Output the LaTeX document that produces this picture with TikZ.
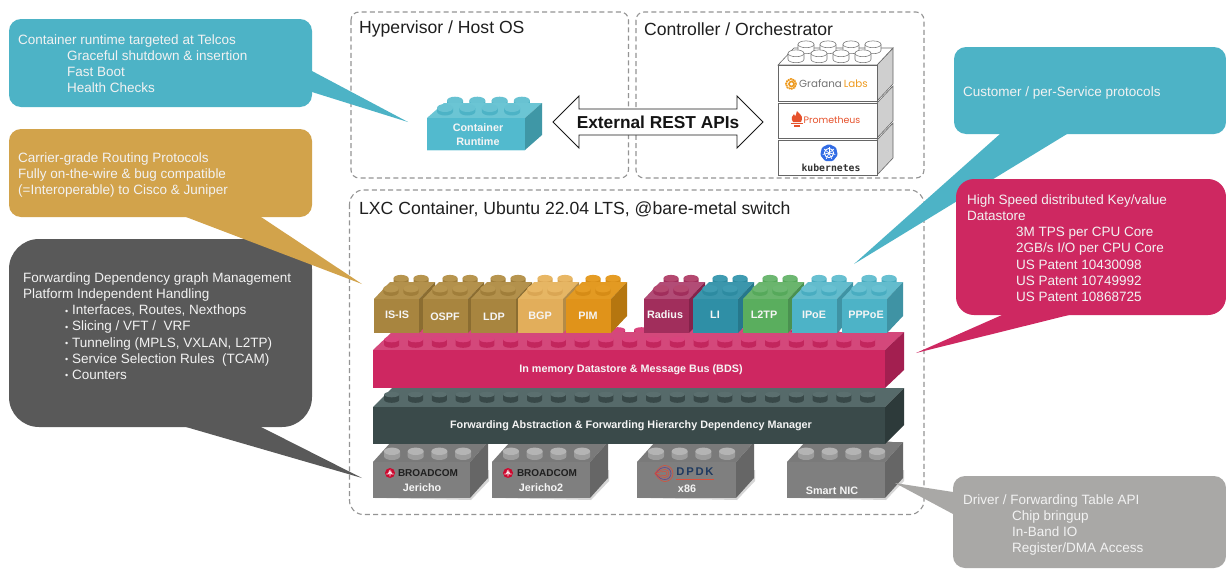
\documentclass[tikz,border=0pt]{standalone}
\usepackage{fontspec}
\setmainfont{Liberation Sans}
\newfontfamily\logofont{Poppins}
\newfontfamily\monobold[BoldFont=DejaVu Sans Mono Bold]{DejaVu Sans Mono}
\definecolor{calloutteal}{HTML}{4DB3C6}
\definecolor{calloutorange}{HTML}{D2A34B}
\definecolor{calloutdark}{HTML}{595959}
\definecolor{calloutred}{HTML}{CE2861}
\definecolor{calloutgray}{HTML}{A9A8A6}
\definecolor{dashgray}{HTML}{949494}
\definecolor{promfl}{HTML}{E6522C}
\definecolor{k8sblue}{HTML}{326CE5}
\definecolor{grafor}{HTML}{EE9A1E}
\definecolor{dpdkblue}{HTML}{1F3A60}
\definecolor{dpdkpurple}{HTML}{6A3F8C}
\definecolor{dpdkred}{HTML}{D8503C}
\definecolor{bcred}{HTML}{CC092F}
% palettes: F front, T top, S side, B stud body, U stud top
\newcommand{\palette}[6]{%
  \definecolor{#1F}{HTML}{#2}\definecolor{#1T}{HTML}{#3}\definecolor{#1S}{HTML}{#4}%
  \definecolor{#1B}{HTML}{#5}\definecolor{#1U}{HTML}{#6}}
\palette{brown}{A8853F}{B3914C}{8B6D31}{A07E3A}{B7954F}
\palette{sand}{E2AE5B}{E6B664}{B38B47}{DAA654}{E8B765}
\palette{amber}{E0931A}{E39A22}{B5760F}{D68C16}{E59C24}
\palette{plum}{A12E5C}{B24C76}{85224A}{A12E5C}{B4486F}
\palette{petrol}{2F8FA6}{3B96AC}{26788C}{2D8BA1}{3F9BB1}
\palette{leaf}{5AAE5E}{6AB56D}{4A9150}{56A95B}{6DB771}
\palette{sky}{4DB3C7}{63BCCD}{3F93A4}{49ADC1}{68C0D1}
\palette{cont}{52BACE}{6BC5D4}{3F97A6}{4DB3C6}{68C2D2}
\palette{rose}{CE2761}{D4487B}{A31F50}{C2265D}{D9447D}
\palette{slate}{3A4A4A}{566A6A}{2D3A3A}{384848}{5B6F6F}
\palette{stone}{7F7F7F}{7A7A7A}{666666}{9C9C9C}{B4B4B4}
\palette{blank}{FFFFFF}{FFFFFF}{CFCFCF}{FFFFFF}{FFFFFF}
\newcommand{\brickbody}[7]{%
  \fill[#7T] (#1,#2) -- ({#1+#5},{#2-#6}) -- ({#3+#5},{#2-#6}) -- (#3,#2) -- cycle;
  \fill[#7S] (#3,#2) -- ({#3+#5},{#2-#6}) -- ({#3+#5},{#4-#6}) -- (#3,#4) -- cycle;
  \fill[#7F] (#1,#2) rectangle (#3,#4);}
\newcommand{\stud}[6]{%
  \fill[#6B] ({#1-#3},#2) -- ({#1-#3},{#2+#5}) arc[start angle=180,end angle=360,x radius=#3 pt,y radius=#4 pt] -- ({#1+#3},#2) -- cycle;
  \fill[#6U] (#1,#2) ellipse[x radius=#3 pt,y radius=#4 pt];}
\newcommand{\studrow}[8]{%
  \foreach \i in {1,...,#3}{%
    \pgfmathsetmacro{\cx}{#1+(\i-1)*#2}%
    \stud{\cx}{#4}{#5}{#6}{#7}{#8}}}
\newcommand{\minibrick}[2]{%
  \studrow{#1+27}{20}{2}{278.3}{7.5}{3.4}{3.5}{#2}
  \brickbody{#1}{299}{#1+45}{333}{16}{17}{#2}
  \studrow{#1+17}{20}{2}{288.7}{7.7}{3.7}{3.5}{#2}}
\newcommand{\graybrick}[2]{%
  \fill[black!16] ({#1+2},{498}) -- ({#2+1},500) -- ({#2+19},481) -- ({#2+19},470) -- cycle;
  \studrow{#1+30}{23.7}{4}{445}{8}{3.7}{4}{stone}
  \brickbody{#1}{462}{#2}{498}{18}{20}{stone}
  \studrow{#1+19}{23.7}{4}{451.3}{8}{3.7}{5}{stone}}
\newcommand{\orchstud}[2]{%
  \draw[line width=.55,draw=black!55,fill=white] ({#1-8},#2) -- ({#1-8},{#2+6}) arc[start angle=180,end angle=360,x radius=8pt,y radius=3.4pt] -- ({#1+8},#2);
  \draw[line width=.55,draw=black!55,fill=white] (#1,#2) ellipse[x radius=8pt,y radius=3.4pt];}
\newcommand{\orchbox}[2]{%
  \filldraw[orchline,fill=blankS] (877,#1) -- (893,{#1-17}) -- (893,{#2-17}) -- (877,#2) -- cycle;
  \filldraw[orchline,fill=white] (778,#1) rectangle (877,#2);}
\tikzset{
  boxtitle/.style={anchor=west,inner sep=0,font=\fontsize{17.6}{20}\selectfont,text=black!88},
  zone/.style={draw=dashgray,line width=1.1,dash pattern=on 5pt off 3.2pt},
  callouttext/.style={anchor=north west,inner sep=0,align=left,text=white!95!black,font=\fontsize{13.5}{16.2}\selectfont},
  bricklabel/.style={inner sep=0,text=white!96!black,align=center,font=\fontsize{10.8}{14}\selectfont\bfseries},
  orchline/.style={draw=black!60,line width=.6},
}
\newcommand{\fl}{\rule{0pt}{12pt}}
\newcommand{\ind}[1]{\hspace*{#1pt}}
\newcommand{\bul}{\hspace*{42pt}\makebox[7pt][l]{\raisebox{.5pt}{\fontsize{9}{9}\selectfont\textbullet}}}
\begin{document}
\begin{tikzpicture}[x=1pt,y=-1pt]
\useasboundingbox (0,0) rectangle (1226,568);
\fill[white] (0,0) rectangle (1226,568);
% zones
\draw[zone,rounded corners=8] (351,12) rectangle (628.5,178);
\draw[zone,rounded corners=8] (636,12) rectangle (924,178);
\draw[zone,rounded corners=14] (349.5,190) rectangle (924,514.5);
\node[boxtitle] (hv) at (359,29) {Hypervisor / Host OS};
\node[boxtitle] (ctl) at (644,29) {Controller / Orchestrator};
\node[boxtitle] (lxc) at (359,209) {LXC Container, Ubuntu 22.04 LTS, @bare-metal switch};
% container runtime brick
\studrow{455}{22.3}{4}{100.5}{8}{3.8}{4}{cont}
\brickbody{427}{118}{525}{150}{17}{15}{cont}
\studrow{445}{22.4}{4}{108}{8}{4}{3.5}{cont}
\fill[white!70!contF] (427,149.5) rectangle (525,150.5);
\node[bricklabel] (crt) at (478,135) {Container\\Runtime};
% orchestrator stack
\orchbox{140}{175}
\orchbox{103}{138}
\filldraw[orchline,fill=blankS] (877,65) -- (893,48) -- (893,84) -- (877,101) -- cycle;
\filldraw[orchline,fill=white] (778,65) -- (794,48) -- (893,48) -- (877,65) -- cycle;
\filldraw[orchline,fill=white] (778,65) rectangle (877,101);
\foreach \xs in {806,828,851,873}{\orchstud{\xs}{44.3}}
\foreach \xs in {796,819,841,863}{\orchstud{\xs}{53.3}}
% grafana logo
\draw[draw=grafor,line width=1.8,dash pattern=on 1.7pt off .6pt] (791,84) circle[radius=5pt];
\draw[draw=grafor,line width=1.6] (791.5,84) circle[radius=2.5pt];
\node[inner sep=0,anchor=west,font=\logofont\fontsize{10.3}{12}\selectfont] (graf) at (799,84) {\textcolor{black!55}{Grafana}\hspace{2pt}\textcolor{grafor}{Labs}};
% prometheus logo
\fill[promfl] (797,111) .. controls (799,114) and (802.5,115) .. (802,119) .. controls (801.8,120) and (801.5,121) .. (801,122) -- (793,122) .. controls (790.5,118.5) and (792,115.5) .. (794,114) .. controls (794.5,115.5) and (795,116) .. (795.5,116) .. controls (795.5,114) and (796.5,113) .. (797,111) -- cycle;
\fill[promfl] (791,122.8) rectangle (803,124.3);
\fill[promfl] (794,124.9) rectangle (800,126.6);
\node[inner sep=0,anchor=west,text=promfl,font=\logofont\fontsize{9.4}{12}\selectfont] (prom) at (803.5,120) {Prometheus};
% kubernetes logo
\fill[k8sblue,rounded corners=1.2pt] (829,144) -- ({829+9*sin(51.43)},{153-9*cos(51.43)}) -- ({829+9*sin(102.86)},{153-9*cos(102.86)}) -- ({829+9*sin(154.29)},{153-9*cos(154.29)}) -- ({829+9*sin(205.71)},{153-9*cos(205.71)}) -- ({829+9*sin(257.14)},{153-9*cos(257.14)}) -- ({829+9*sin(308.57)},{153-9*cos(308.57)}) -- cycle;
\draw[white,line width=.9] (829,153) circle[radius=4.6pt];
\foreach \a in {0,51.43,102.86,154.29,205.71,257.14,308.57}{\draw[white,line width=.7] (829,153) -- ({829+6.4*sin(\a)},{153-6.4*cos(\a)});}
\node[inner sep=0,text=black!80,font=\monobold\bfseries\fontsize{9.8}{11}\selectfont] (k8s) at (831,168) {kubernetes};
% bottom row bricks
\graybrick{373}{470}
\graybrick{492}{590}
\graybrick{637}{736}
\graybrick{787}{885}
% broadcom logos
\foreach \cxx/\tx/\nm in {390/428/bca,508/547/bcb}{
  \fill[bcred] (\cxx,473) circle[radius=5pt];
  \draw[white,line width=.6] ({\cxx-3.7},474) -- ({\cxx-1.6},474) -- ({\cxx-.7},471) -- (\cxx,475.5) -- ({\cxx+.8},471) -- ({\cxx+1.6},474) -- ({\cxx+3.7},474);
  \node[inner sep=0,text=black!88,font=\fontsize{10}{12}\selectfont\bfseries] (\nm) at (\tx,473.3) {BROADCOM};
}
\node[bricklabel] (jer) at (422,488) {Jericho};
\node[bricklabel] (jer2) at (541,488) {Jericho2};
% dpdk logo
\foreach \r/\c in {2/dpdkred,4/dpdkred,6/dpdkpurple,8/dpdkred}{
  \draw[\c,line width=.6] (655,473.5) .. controls (659,{473.5-\r*.8}) and (662,{473.5-\r}) .. (665,{473.5-\r}) arc[start angle=90,end angle=-90,radius=\r pt] .. controls (662,{473.5+\r}) and (659,{473.5+\r*.8}) .. (655,473.5);
}
\node[inner sep=0,text=dpdkblue,font=\fontsize{11.2}{12}\selectfont\bfseries] (dpdk) at (695,472) {D\kern1.8pt P\kern1.8pt D\kern1.8pt K};
\fill[dpdkred] (676,478.6) rectangle (714,479.6);
\node[bricklabel] (x86) at (687,489) {x86};
\node[bricklabel] (nic) at (832,491) {Smart NIC};
% forwarding layer
\studrow{403}{23.8}{21}{390}{6.5}{2.5}{5}{slate}
\brickbody{373}{407}{885}{444}{19}{19}{slate}
\studrow{391.7}{23.8}{21}{394.5}{7.5}{2.8}{5.5}{slate}
\node[bricklabel] (fwd) at (631,426) {Forwarding Abstraction \& Forwarding Hierarchy Dependency Manager};
% datastore layer
\studrow{403.5}{23.8}{21}{330}{7.5}{2.8}{5}{rose}
\brickbody{373}{350}{885}{388}{19}{18}{rose}
\studrow{391.7}{23.8}{21}{339.5}{7.5}{2.8}{5.5}{rose}
\node[bricklabel] (bds) at (631,370) {In memory Datastore \& Message Bus (BDS)};
% protocol bricks
\minibrick{374}{brown}
\minibrick{423}{brown}
\minibrick{471}{brown}
\minibrick{518}{sand}
\minibrick{566}{amber}
\minibrick{644}{plum}
\minibrick{693}{petrol}
\minibrick{743}{leaf}
\minibrick{792}{sky}
\minibrick{842}{sky}
\foreach \lx/\ly/\nm/\lab in {397/315/isis/IS-IS,445/317/ospf/OSPF,494/317/ldp/LDP,540/316/bgp/BGP,588/316/pim/PIM,665/315/rad/Radius,715/315/li/LI,764/315/ltp/L2TP,814/315/ipoe/IPoE,866/315/pppoe/PPPoE}{
  \node[bricklabel] (\nm) at (\lx,\ly) {\lab};
}
% REST arrow
\filldraw[draw=black!90,fill=white,line width=.9] (553,122) -- (579,96) -- (579,109) -- (737,109) -- (737,96) -- (763,122) -- (737,148) -- (737,135) -- (579,135) -- (579,148) -- cycle;
\node[inner sep=0,text=black!92,font=\fontsize{17.3}{20}\selectfont\bfseries] (rest) at (658,122.5) {External REST APIs};
% callouts
\fill[calloutteal,rounded corners=12] (9,19) rectangle (312,107);
\fill[calloutteal] (300,68) -- (312,71) -- (408,122) -- (312,92) -- (300,92) -- cycle;
\node[callouttext] (c1) at (18,32) {\fl Container runtime targeted at Telcos\\\ind{49}Graceful shutdown \& insertion\\\ind{49}Fast Boot\\\ind{49}Health Checks};
\fill[calloutdark,rounded corners=30] (9,239) rectangle (312,427);
\fill[calloutdark] (186,427) -- (261,427) -- (362,478) -- cycle;
\node[callouttext] (c3) at (23,270) {\fl Forwarding Dependency graph Management\\Platform Independent Handling\\\bul Interfaces, Routes, Nexthops\\\bul Slicing / VFT /\ \ VRF\\\bul Tunneling (MPLS, VXLAN, L2TP)\\\bul Service Selection Rules\ \ (TCAM)\\\bul Counters};
\fill[calloutorange,rounded corners=12] (9,129) rectangle (312,217);
\fill[calloutorange] (186,217) -- (261,217) -- (362,284) -- cycle;
\node[callouttext] (c2) at (18,150) {\fl Carrier-grade Routing Protocols\\Fully on-the-wire \& bug compatible\\(=Interoperable) to Cisco \& Juniper};
\fill[calloutteal,rounded corners=12] (954,47) rectangle (1226,134);
\fill[calloutteal] (1000,134) -- (1067,134) -- (854,264) -- cycle;
\node[callouttext] (c4) at (963,84) {\fl Customer / per-Service protocols};
\fill[calloutred,rounded corners=18] (956,179) rectangle (1226,315);
\fill[calloutred] (1002,315) -- (1069,315) -- (916,353) -- cycle;
\node[callouttext] (c5) at (967,192) {\fl High Speed distributed Key/value\\Datastore\\\ind{49}3M TPS per CPU Core\\\ind{49}2GB/s I/O per CPU Core\\\ind{49}US Patent 10430098\\\ind{49}US Patent 10749992\\\ind{49}US Patent 10868725};
\fill[calloutgray,rounded corners=12] (953,476) rectangle (1226,568);
\fill[calloutgray] (953,492) -- (895,483) -- (953,514) -- cycle;
\node[callouttext] (c6) at (963,492) {\fl Driver / Forwarding Table API\\\ind{49}Chip bringup\\\ind{49}In-Band IO\\\ind{49}Register/DMA Access};
\end{tikzpicture}
\end{document}
